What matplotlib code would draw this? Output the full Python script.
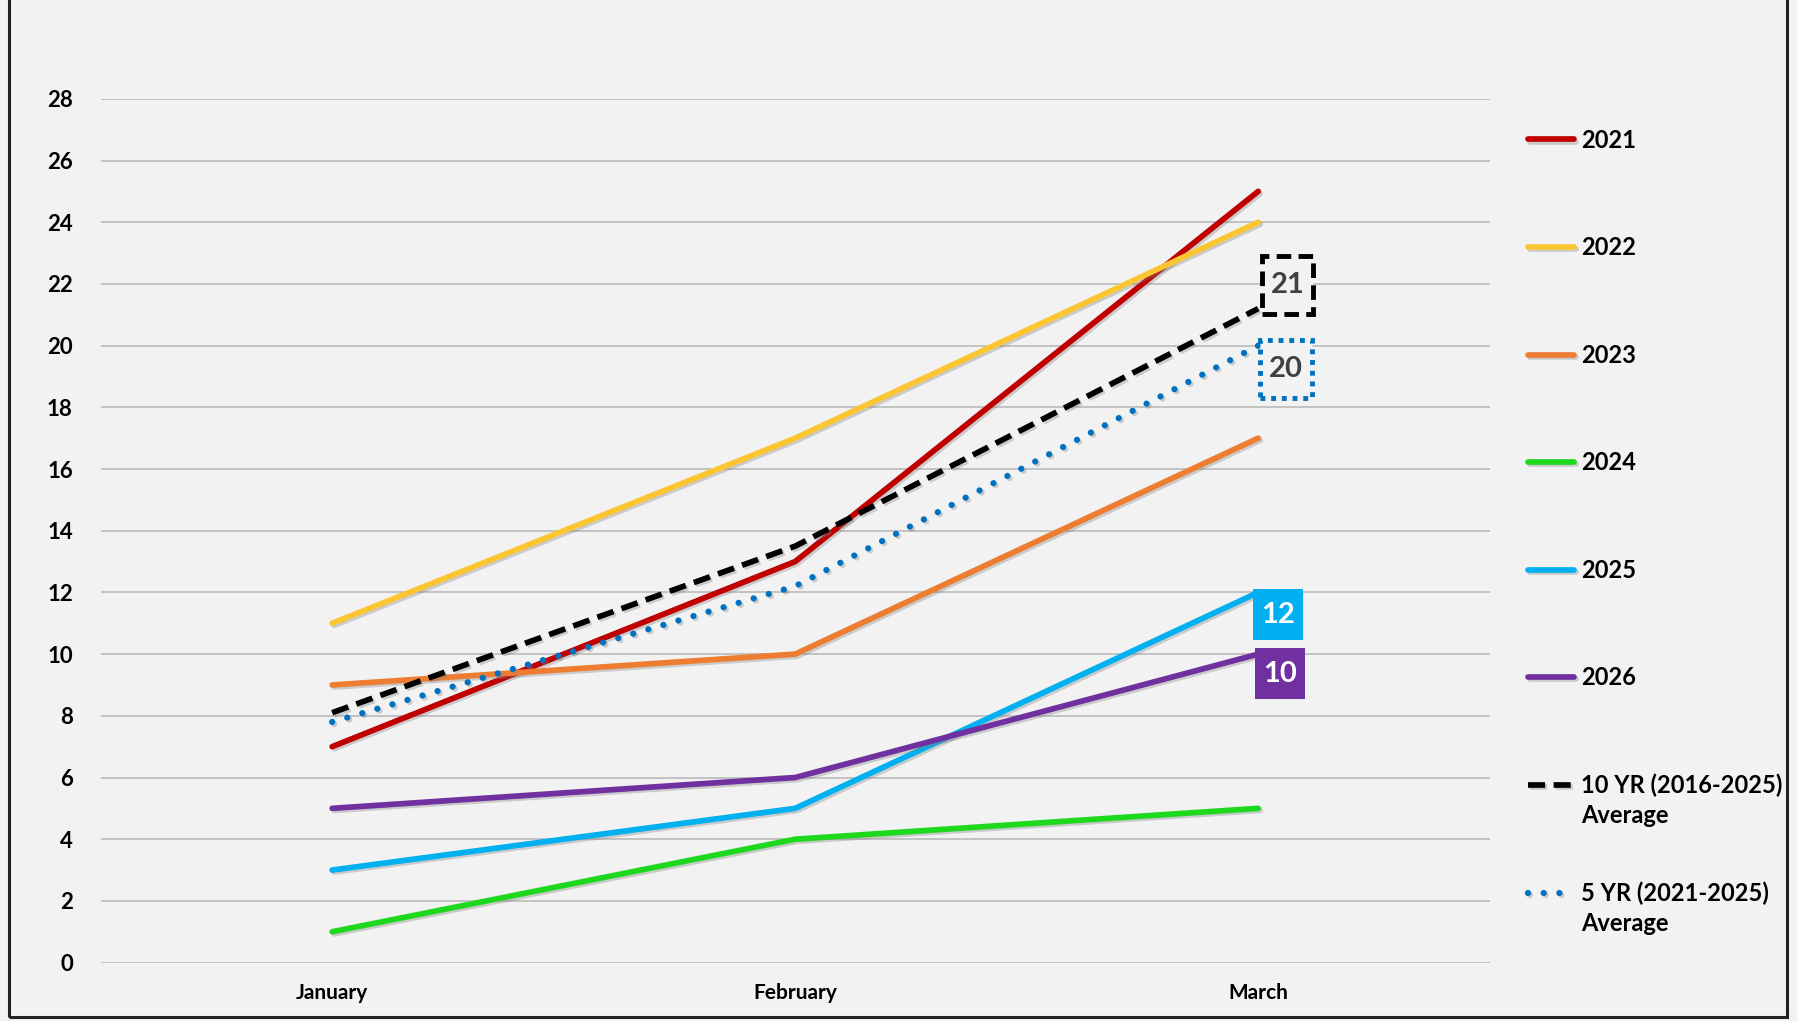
import matplotlib.pyplot as plt
import matplotlib.patheffects as pe
from matplotlib.patches import Rectangle
from matplotlib.path import Path

plt.rcParams['font.family'] = ['Lato', 'DejaVu Sans']
plt.rcParams['font.weight'] = 'bold'

months = ["January", "February", "March"]
y2021 = [7, 13, 25]
y2022 = [11, 17, 24]
y2023 = [9, 10, 17]
y2024 = [1, 4, 5]
y2025 = [3, 5, 12]
y2026 = [5, 6, 10]
avg10 = [8.1, 13.5, 21.2]
avg5 = [7.8, 12.2, 20.0]

bg = "#f2f2f2"


def label_box(padx, pady):
    # square box with separate horizontal / vertical padding
    def box(x0, y0, width, height, mutation_size):
        px, py = padx * mutation_size, pady * mutation_size
        return Path([(x0 - px, y0 - py), (x0 + width + px, y0 - py),
                     (x0 + width + px, y0 + height + py), (x0 - px, y0 + height + py),
                     (x0 - px, y0 - py)], closed=True)
    return box


fig = plt.figure(figsize=(17.97, 10.21), dpi=100, facecolor=bg)
ax = fig.add_axes([0.056, 0.0572, 0.773, 0.846])
ax.set_facecolor(bg)

shadow = [pe.SimpleLineShadow(offset=(1.5, -1.5), shadow_color="gray", alpha=0.35), pe.Normal()]
x = range(len(months))
lw = 4.1
ax.plot(x, y2021, color="#c00000", lw=lw, label="2021", solid_capstyle="round", path_effects=shadow)
ax.plot(x, y2022, color="#fcc633", lw=lw, label="2022", solid_capstyle="round", path_effects=shadow)
ax.plot(x, y2023, color="#ed7d31", lw=lw, label="2023", solid_capstyle="round", path_effects=shadow)
ax.plot(x, y2024, color="#1ed81e", lw=lw, label="2024", solid_capstyle="round", path_effects=shadow)
ax.plot(x, y2025, color="#00b0f0", lw=lw, label="2025", solid_capstyle="round", path_effects=shadow)
ax.plot(x, y2026, color="#7030a0", lw=lw, label="2026", solid_capstyle="round", path_effects=shadow)
ax.plot(x, avg10, color="black", lw=lw, ls=(0, (3, 1.5)), label="10 YR (2016-2025)", path_effects=shadow)
ax.plot(x, avg5, color="#0070c0", lw=4.5, ls=(0, (0.01, 2.5)), dash_capstyle="round",
        label="5 YR (2021-2025)", path_effects=shadow)

# value boxes at March
ax.annotate("21", xy=(2, avg10[2]), xytext=(21, 17), textcoords="offset points", ha="center", va="center",
            fontsize=21, color="#404040",
            bbox=dict(boxstyle=label_box(0.3, 0.55), fc=bg, ec="black", lw=3.5, ls=(0, (3, 1.5))))
ax.annotate("20", xy=(2, avg5[2]), xytext=(20, -17), textcoords="offset points", ha="center", va="center",
            fontsize=21, color="#404040",
            bbox=dict(boxstyle=label_box(0.3, 0.55), fc=bg, ec="#0070c0", lw=3.5, ls=(0, (1, 1.2))))
ax.annotate("12", xy=(2, y2025[2]), xytext=(14, -16), textcoords="offset points", ha="center", va="center",
            fontsize=21, color="white",
            bbox=dict(boxstyle=label_box(0.28, 0.42), fc="#00b0f0", ec="none"))
ax.annotate("10", xy=(2, y2026[2]), xytext=(16, -14), textcoords="offset points", ha="center", va="center",
            fontsize=21, color="white",
            bbox=dict(boxstyle=label_box(0.28, 0.42), fc="#7030a0", ec="none"))

ax.set_xlim(-0.5, 2.5)
ax.set_ylim(0, 28)
ax.set_yticks(range(0, 29, 2))
ax.set_xticks(list(x))
ax.set_xticklabels(months)
ax.tick_params(axis="y", length=0, pad=20, labelsize=16)
ax.tick_params(axis="x", length=0, pad=15, labelsize=15)
ax.grid(axis="y", color="#bfbfbf", lw=1.3)
ax.set_axisbelow(True)
for s in ax.spines.values():
    s.set_visible(False)

leg = ax.legend(loc="upper left", bbox_to_anchor=(1.012, 0.990), frameon=False, fontsize=17,
                handlelength=1.95, handletextpad=0.3, labelspacing=3.58)

# second line "Average" under the two average entries
fig.canvas.draw()
for t in leg.get_texts()[6:]:
    bb = t.get_window_extent()
    fig.text(bb.x0 / fig.bbox.width, (bb.y0 - 7) / fig.bbox.height, "Average",
             fontsize=17, va="top", ha="left")

# outer frame
fig.patches.append(Rectangle((9 / 1797, 4 / 1021), 1778 / 1797, 1.1, transform=fig.transFigure,
                             fill=False, ec="#222222", lw=2.2))

fig.savefig("out.png", dpi=100, facecolor=bg)
